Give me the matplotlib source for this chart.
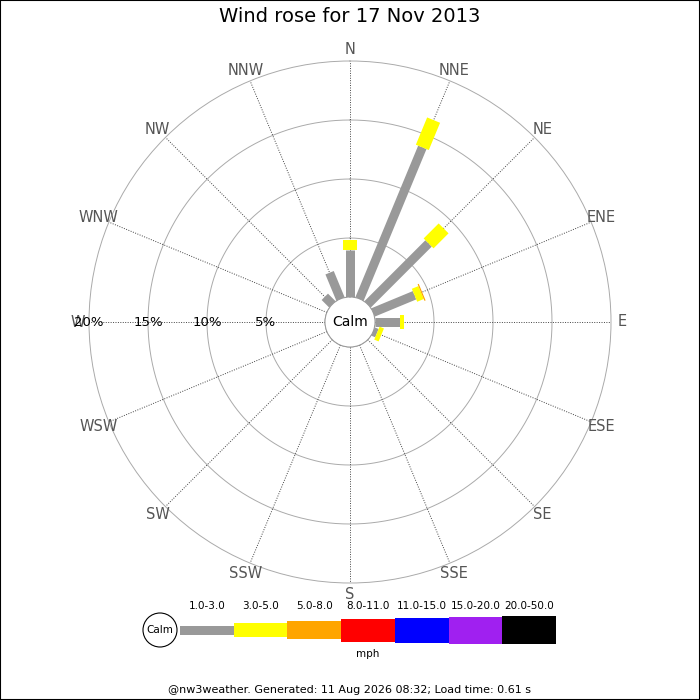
import numpy as np
import matplotlib
matplotlib.use("Agg")
from matplotlib import pyplot as plt
from matplotlib.patches import Circle, Rectangle

# data (percent of day per direction and speed bin)
directions = ['N', 'NNE', 'NE', 'ENE', 'E', 'ESE', 'SE', 'SSE',
              'S', 'SSW', 'SW', 'WSW', 'W', 'WNW', 'NW', 'NNW']
pct_1_3 = [4.0, 13.9, 7.3, 3.8, 2.1, 0.35, 0, 0, 0, 0, 0, 0, 0, 0, 0.9, 2.4]
pct_3_5 = [0.8, 2.5, 1.8, 0.6, 0.35, 0.4, 0, 0, 0, 0, 0, 0, 0, 0, 0, 0]
pct_5_8 = [0, 0, 0, 0.1, 0, 0, 0, 0, 0, 0, 0, 0, 0, 0, 0, 0]
speed_bins = ['1.0-3.0', '3.0-5.0', '5.0-8.0', '8.0-11.0', '11.0-15.0', '15.0-20.0', '20.0-50.0']
ring_pcts = [5, 10, 15, 20]

colors = ['#999999', '#ffff00', '#ffa500', '#ff0000', '#0000ff', '#a020f0', '#000000']
bar_px = [9, 14, 18, 23, 25, 27, 28]

fig = plt.figure(figsize=(7, 7), dpi=100)
W = 700.0

# polar axes, calm hole in the middle
R = 261.0
ax = fig.add_axes([(350 - R) / W, (700 - 322 - R) / W, 2 * R / W, 2 * R / W], projection='polar')
ax.set_theta_zero_location('N')
ax.set_theta_direction(-1)
px_per_pct = (R - 25) / 20.0
ax.set_rorigin(-25 / px_per_pct)
ax.set_rlim(0, 20)
ax.grid(False)
ax.set_xticks([])
ax.set_yticks([])
ax.spines['polar'].set_color('#aaaaaa')
ax.spines['polar'].set_linewidth(0.7)
ax.spines['inner'].set_color('#999999')
ax.spines['inner'].set_linewidth(0.7)

full = np.linspace(0, 2 * np.pi, 361)
for r in ring_pcts[:-1]:
    ax.plot(full, np.full_like(full, r), color='#aaaaaa', lw=0.7, zorder=1)
ax.plot(full, np.zeros_like(full), color='#999999', lw=0.7, zorder=1)

thetas = np.deg2rad(np.arange(16) * 22.5)
for th, name in zip(thetas, directions):
    ax.plot([th, th], [0, 20], color='#444444', lw=0.7, ls=(0, (1, 1.5)), zorder=1)
    ax.text(th, 20.95, name, ha='center', va='center', fontsize=10.5, color='#555555', clip_on=False)

# stacked bars
base = np.zeros(16)
for vals, col, w in zip([pct_1_3, pct_3_5, pct_5_8], colors, bar_px):
    vals = np.array(vals)
    for th, b, v in zip(thetas, base, vals):
        if v > 0:
            ax.plot([th, th], [b, b + v], color=col, lw=w * 0.72,
                    solid_capstyle='butt', zorder=3)
    base = base + vals

for r in ring_pcts:
    ax.text(np.deg2rad(270), r, '%d%%' % r, ha='center', va='center', fontsize=9.5,
            color='black', zorder=4, clip_on=False)

fig.text(0.5, 1 - 322 / W, 'Calm', ha='center', va='center', fontsize=10)
fig.text(0.5, 1 - 17 / W, 'Wind rose for 17 Nov 2013', ha='center', va='center', fontsize=14)

# legend
lax = fig.add_axes([180 / W, (700 - 649) / W, 376 / W, 40 / W])
lax.set_xlim(0, 7)
lax.set_ylim(-20, 20)
lax.axis('off')
for i, (lab, col, h) in enumerate(zip(speed_bins, colors, bar_px)):
    lax.bar(i, h, bottom=-h / 2 - 1, width=1, align='edge', color=col, lw=0)
    lax.text(i + 0.5, 23, lab, ha='center', va='center', fontsize=7.5, clip_on=False)
lax.text(3.5, -25, 'mph', ha='center', va='center', fontsize=7.5, clip_on=False)

fig.add_artist(Circle((160 / W, 1 - 630 / W), 17 / W, transform=fig.transFigure,
                      facecolor='white', edgecolor='black', lw=0.8, zorder=5))
fig.text(160 / W, 1 - 630 / W, 'Calm', ha='center', va='center', fontsize=7.5, zorder=6)

fig.text(0.5, 1 - 690 / W, '@nw3weather. Generated: 11 Aug 2026 08:32; Load time: 0.61 s',
         ha='center', va='center', fontsize=8)

fig.add_artist(Rectangle((0, 0), 1, 1, transform=fig.transFigure, fill=False,
                         edgecolor='black', lw=1.5))

fig.savefig('out.png', dpi=100)
